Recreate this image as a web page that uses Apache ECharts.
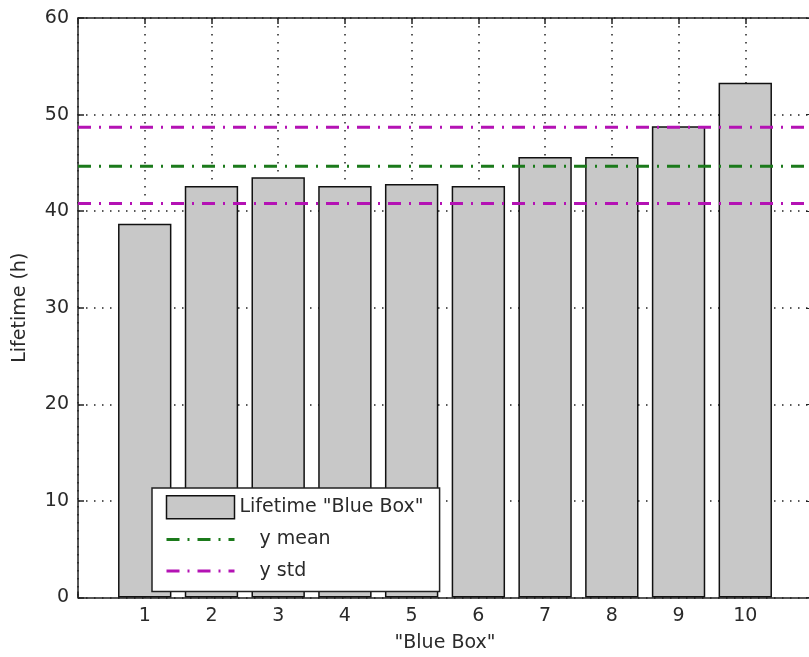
<!DOCTYPE html>
<html>
<head>
<meta charset="utf-8">
<script src="https://cdn.jsdelivr.net/npm/echarts@6/dist/echarts.min.js"></script>
<style>
html,body{margin:0;padding:0;background:#fff;}
#c{width:809px;height:657px;}
</style>
</head>
<body>
<div id="c"></div>
<script>
// ---- data ----
var boxes = [1, 2, 3, 4, 5, 6, 7, 8, 9, 10];
var lifetimes = [38.7, 42.6, 43.5, 42.6, 42.8, 42.6, 45.6, 45.6, 48.8, 53.3];
var lineSpan = [0, 11];
var yMean = 44.65;
var yStdUpper = 48.7;
var yStdLower = 40.8;
var yTicks = [0, 10, 20, 30, 40, 50, 60];
var xTickLabels = ['1', '2', '3', '4', '5', '6', '7', '8', '9', '10'];
var seriesNames = ['Lifetime "Blue Box"', 'y mean', 'y std'];

var FONT = 'DejaVu Sans';
var FS = 19;
var TXT = '#2a2a2a';
var GREEN = '#1b7a1b';
var MAGENTA = '#b412b4';

var chart = echarts.init(document.getElementById('c'), null, {renderer: 'canvas'});

var barData = boxes.map(function (b, i) { return [b, lifetimes[i]]; });
function hline(v) { return lineSpan.map(function (x) { return [x, v]; }); }

var dashDot = [13, 8, 2, 8];
var dotted = [1.5, 6.5];
var hidden = {color: 'rgba(0,0,0,0)', borderColor: 'rgba(0,0,0,0)', borderWidth: 0};

var option = {
  animation: false,
  backgroundColor: '#fff',
  textStyle: {fontFamily: FONT},
  grid: {left: 78, top: 18, width: 734, height: 579.5, containLabel: false, outerBoundsMode: 'none'},
  xAxis: [{
    type: 'value', min: 0, max: 11, interval: 1, position: 'bottom',
    name: '"Blue Box"', nameLocation: 'middle', nameGap: 36,
    nameTextStyle: {fontFamily: FONT, fontSize: FS, color: TXT},
    axisLine: {show: true, onZero: false, lineStyle: {color: '#222', width: 1.5}},
    axisTick: {show: true, inside: true, length: 6, lineStyle: {color: '#222', width: 1.5}},
    axisLabel: {show: true, margin: 9, fontFamily: FONT, fontSize: FS, color: TXT,
      formatter: function (v) { var i = boxes.indexOf(v); return i >= 0 ? xTickLabels[i] : ''; }},
    splitLine: {show: true, lineStyle: {color: '#222', width: 1.5, type: dotted}}
  }, {
    type: 'value', min: 0, max: 11, interval: 1, position: 'top',
    axisLine: {show: true, onZero: false, lineStyle: {color: '#222', width: 1.5}},
    axisTick: {show: true, inside: true, length: 6, lineStyle: {color: '#222', width: 1.5}},
    axisLabel: {show: false},
    splitLine: {show: false}
  }],
  yAxis: [{
    type: 'value', min: yTicks[0], max: yTicks[yTicks.length - 1], interval: 10, position: 'left',
    name: 'Lifetime (h)', nameLocation: 'middle', nameGap: 48, nameRotate: 90,
    nameTextStyle: {fontFamily: FONT, fontSize: FS, color: TXT},
    axisLine: {show: true, onZero: false, lineStyle: {color: '#222', width: 1.5}},
    axisTick: {show: true, inside: true, length: 6, lineStyle: {color: '#222', width: 1.5}},
    axisLabel: {show: true, margin: 9, fontFamily: FONT, fontSize: FS, color: TXT},
    splitLine: {show: true, lineStyle: {color: '#222', width: 1.5, type: dotted}}
  }, {
    type: 'value', min: yTicks[0], max: yTicks[yTicks.length - 1], interval: 10, position: 'right',
    axisLine: {show: true, onZero: false, lineStyle: {color: '#222', width: 1.5}},
    axisTick: {show: true, inside: true, length: 6},
    axisLabel: {show: false},
    splitLine: {show: false}
  }],
  legend: {
    orient: 'vertical', left: 152, top: 488,
    data: [
      {name: seriesNames[0], icon: 'rect', itemStyle: {color: '#c8c8c8', borderColor: '#111', borderWidth: 1.5}},
      {name: seriesNames[1], itemStyle: hidden, lineStyle: {color: GREEN, width: 3, type: dashDot}},
      {name: seriesNames[2], itemStyle: hidden, lineStyle: {color: MAGENTA, width: 3, type: dashDot}}
    ],
    itemWidth: 68, itemHeight: 23, itemGap: 8.5,
    padding: [7, 16, 9, 13],
    backgroundColor: '#fff', borderColor: '#222', borderWidth: 1.5, borderRadius: 0,
    textStyle: {fontFamily: FONT, fontSize: FS, color: TXT, lineHeight: 23, height: 23,
      rich: {ind: {fontFamily: FONT, fontSize: FS, color: TXT, lineHeight: 23, height: 23, padding: [0, 0, 0, 20]}}},
    formatter: function (name) { return name === seriesNames[0] ? name : '{ind|' + name + '}'; },
    selectedMode: false,
    z: 20
  },
  series: [{
    name: seriesNames[0], type: 'bar', xAxisIndex: 0, yAxisIndex: 0,
    data: barData, barWidth: '80%',
    itemStyle: {color: '#c8c8c8', borderColor: '#111', borderWidth: 1.5},
    z: 2
  }, {
    name: seriesNames[1], type: 'line', xAxisIndex: 0, yAxisIndex: 0,
    data: hline(yMean), symbol: 'none', showSymbol: false,
    lineStyle: {color: GREEN, width: 3, type: dashDot, cap: 'butt'},
    itemStyle: {color: GREEN},
    z: 5
  }, {
    name: seriesNames[2], type: 'line', xAxisIndex: 0, yAxisIndex: 0,
    data: hline(yStdUpper), symbol: 'none', showSymbol: false,
    lineStyle: {color: MAGENTA, width: 3, type: dashDot, cap: 'butt'},
    itemStyle: {color: MAGENTA},
    z: 5
  }, {
    name: seriesNames[2], type: 'line', xAxisIndex: 0, yAxisIndex: 0,
    data: hline(yStdLower), symbol: 'none', showSymbol: false,
    lineStyle: {color: MAGENTA, width: 3, type: dashDot, cap: 'butt'},
    itemStyle: {color: MAGENTA},
    z: 5
  }]
};
chart.setOption(option);
</script>
</body>
</html>
